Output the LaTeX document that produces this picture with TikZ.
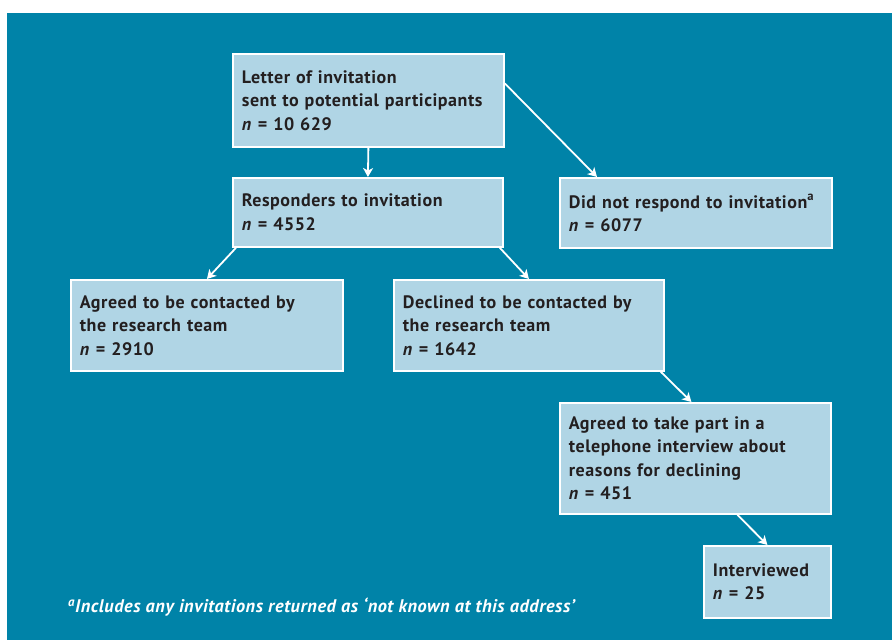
\documentclass[tikz,border=0pt]{standalone}
\usepackage{fontspec}
\setmainfont[LetterSpace=3]{PT Sans}
\usetikzlibrary{positioning,arrows.meta}
\definecolor{tealbg}{HTML}{0083A8}
\definecolor{boxfill}{HTML}{B0D5E5}
\definecolor{boxtext}{HTML}{231F20}

\begin{document}
\begin{tikzpicture}[x=1pt,y=-1pt,>={Stealth[length=9pt,width=10pt,inset=2.5pt]},
  stage/.style={draw=white,line width=1.8pt,fill=boxfill,text=boxtext,anchor=north west,
    align=left,inner xsep=9pt,inner ysep=0pt,font=\bfseries\fontsize{18}{23.5}\selectfont},
  flow/.style={->,draw=white,line width=1.8pt}]
\useasboundingbox (0,0) rectangle (892,640);
\fill[tealbg] (7,13) rectangle (892,640);

\node[stage,text width=253pt,minimum height=93pt] (letter) at (232,53)
  {Letter of invitation\\sent to potential participants\\\textit{n} = 10 629};
\node[stage,text width=252pt,minimum height=69pt] (resp) at (232,177)
  {Responders to invitation\\\textit{n} = 4552};
\node[stage,text width=254pt,minimum height=70pt] (nores) at (559,177)
  {Did not respond to invitation\raisebox{1.5pt}{\textsuperscript{a}}\\\textit{n} = 6077};
\node[stage,text width=254pt,minimum height=91pt] (agreed) at (70,279)
  {Agreed to be contacted by\\the research team\\\textit{n} = 2910};
\node[stage,text width=252pt,minimum height=91pt] (declined) at (393,279)
  {Declined to be contacted by\\the research team\\\textit{n} = 1642};
\node[stage,text width=253pt,minimum height=111pt] (phone) at (559,402)
  {Agreed to take part in a\\telephone interview about\\reasons for declining\\\textit{n} = 451};
\node[stage,text width=109pt,minimum height=72pt] (interv) at (703,545)
  {Interviewed\\\textit{n} = 25};

\node[anchor=west,inner sep=0pt,text=white,font=\bfseries\itshape\fontsize{18.3}{20}\selectfont] (note) at (68,607)
  {\textsuperscript{a}Includes any invitations returned as ‘not known at this address’};

\draw[flow] (letter.south) -- (resp.north);
\draw[flow] ([yshift=17pt]letter.east) -- ([xshift=38pt]nores.north west);
\draw[flow] ([xshift=4pt]resp.south west) -- (agreed.north);
\draw[flow] ([xshift=-4pt]resp.south east) -- (declined.north);
\draw[flow] ([xshift=-4pt]declined.south east) -- ([xshift=-4pt]phone.north);
\draw[flow] ([xshift=42pt]phone.south) -- (interv.north);
\end{tikzpicture}
\end{document}
